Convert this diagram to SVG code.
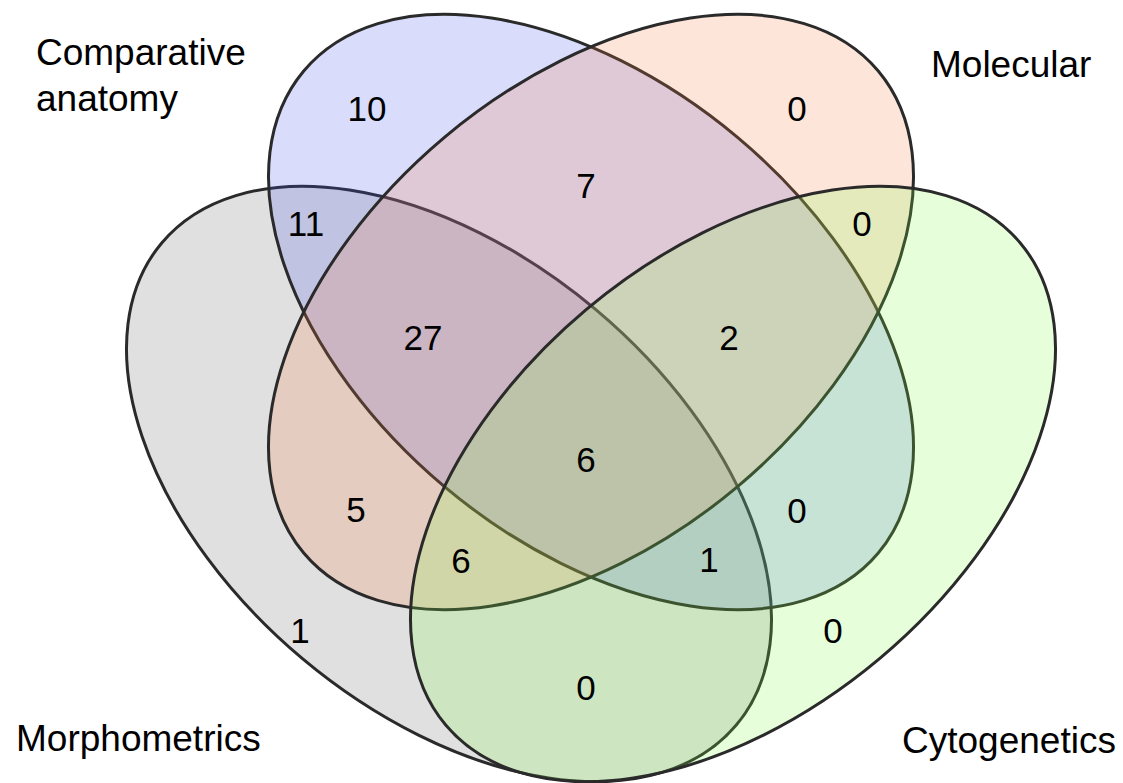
<svg xmlns="http://www.w3.org/2000/svg" width="1123" height="783" viewBox="0 0 1123 783">
<style>
.set{stroke:#2a2a2a;stroke-width:3;fill-opacity:0.2}
.lbl{font-family:"Liberation Sans",Arial,sans-serif;font-size:37px;fill:#000}
.num{font-family:"Liberation Sans",Arial,sans-serif;font-size:35px;fill:#000;text-anchor:middle}
</style>
<rect width="1123" height="783" fill="#ffffff"/>
<g id="morphometrics">
<ellipse class="set" cx="449" cy="484" rx="375" ry="228" transform="rotate(40 449 484)" fill="rgb(100,100,100)"/>
<text class="lbl" x="16" y="751">Morphometrics</text>
</g>
<g id="comparative-anatomy">
<ellipse class="set" cx="591" cy="312" rx="375" ry="228" transform="rotate(40 591 312)" fill="rgb(65,80,235)"/>
<text class="lbl" x="36" y="65">Comparative</text>
<text class="lbl" x="36" y="111">anatomy</text>
</g>
<g id="molecular">
<ellipse class="set" cx="591" cy="312" rx="375" ry="228" transform="rotate(-40 591 312)" fill="rgb(250,125,70)"/>
<text class="lbl" x="931" y="77">Molecular</text>
</g>
<g id="cytogenetics">
<ellipse class="set" cx="733" cy="484" rx="375" ry="228" transform="rotate(-40 733 484)" fill="rgb(130,255,70)"/>
<text class="lbl" x="902" y="753">Cytogenetics</text>
</g>
<g id="counts">
<text class="num" x="367" y="121">10</text>
<text class="num" x="797" y="121">0</text>
<text class="num" x="306" y="236">11</text>
<text class="num" x="586" y="198">7</text>
<text class="num" x="862" y="236">0</text>
<text class="num" x="423" y="350">27</text>
<text class="num" x="729" y="350">2</text>
<text class="num" x="586" y="472">6</text>
<text class="num" x="356" y="522">5</text>
<text class="num" x="797" y="523">0</text>
<text class="num" x="461" y="573">6</text>
<text class="num" x="709" y="572">1</text>
<text class="num" x="300" y="643">1</text>
<text class="num" x="833" y="643">0</text>
<text class="num" x="586" y="700">0</text>
</g>
</svg>
